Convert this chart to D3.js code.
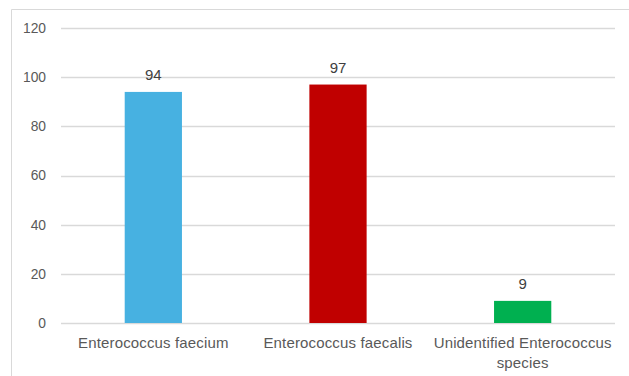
<!DOCTYPE html>
<html>
<head>
<meta charset="utf-8">
<script src="https://cdn.jsdelivr.net/npm/d3@7"></script>
<style>
  html, body { margin: 0; padding: 0; background: #fff; }
  svg { display: block; }
</style>
</head>
<body>
<svg id="chart" width="629" height="376"></svg>
<script>
// Enterococcus isolates by species
const categories = ["Enterococcus faecium", "Enterococcus faecalis", "Unidentified Enterococcus species"];
const counts = [94, 97, 9];
const barColors = ["#47B1E1", "#C00000", "#00B050"];
const yTicks = [0, 20, 40, 60, 80, 100, 120];

const svg = d3.select("#chart");
const W = 629, H = 376;
const margin = { left: 61, right: 14, top: 28, bottom: 53 };
const font = "'Liberation Sans', Arial, sans-serif";
const textColor = "#595959";

// chart frame (top and left edges visible)
svg.append("path")
  .attr("d", `M11.5,${H} V9.5 H${W}`)
  .attr("fill", "none")
  .attr("stroke", "#d9d9d9")
  .attr("stroke-width", 1);

const x = d3.scaleBand()
  .domain(categories)
  .range([margin.left, W - margin.right])
  .paddingInner(0.69)
  .paddingOuter(0.345);

const y = d3.scaleLinear()
  .domain([0, 120])
  .range([H - margin.bottom, margin.top]);

// gridlines
svg.append("g")
  .selectAll("line")
  .data(yTicks)
  .join("line")
  .attr("x1", margin.left)
  .attr("x2", W - margin.right)
  .attr("y1", d => Math.round(y(d)) + 0.5)
  .attr("y2", d => Math.round(y(d)) + 0.5)
  .attr("stroke", "#d9d9d9")
  .attr("stroke-width", 1.3);

// y axis labels
const yAxis = d3.axisLeft(y).tickValues(yTicks).tickSize(0).tickPadding(15);
const gy = svg.append("g")
  .attr("transform", `translate(${margin.left},0)`)
  .call(yAxis);
gy.select(".domain").remove();
gy.selectAll("text")
  .attr("font-family", font)
  .attr("font-size", 13.8)
  .attr("fill", textColor);

// bars
svg.append("g")
  .selectAll("rect")
  .data(categories)
  .join("rect")
  .attr("x", d => x(d))
  .attr("width", x.bandwidth())
  .attr("y", (d, i) => y(counts[i]))
  .attr("height", (d, i) => y(0) - y(counts[i]))
  .attr("fill", (d, i) => barColors[i]);

// value labels
svg.append("g")
  .selectAll("text")
  .data(categories)
  .join("text")
  .attr("x", d => x(d) + x.bandwidth() / 2)
  .attr("y", (d, i) => y(counts[i]) - 11.5)
  .attr("text-anchor", "middle")
  .attr("font-family", font)
  .attr("font-size", 15)
  .attr("fill", "#404040")
  .text((d, i) => counts[i]);

// category labels, wrapped to fit one band step
const bandLabelWidth = x.step();
const gx = svg.append("g");
categories.forEach(cat => {
  const cx = x(cat) + x.bandwidth() / 2;
  const t = gx.append("text")
    .attr("x", cx)
    .attr("y", H - margin.bottom + 25)
    .attr("text-anchor", "middle")
    .attr("font-family", font)
    .attr("font-size", 15)
    .attr("letter-spacing", 0.15)
    .attr("fill", textColor);
  const words = cat.split(" ");
  let line = [];
  let tspan = t.append("tspan").attr("x", cx).attr("dy", 0);
  words.forEach(w => {
    line.push(w);
    tspan.text(line.join(" "));
    if (tspan.node().getComputedTextLength() > bandLabelWidth && line.length > 1) {
      line.pop();
      tspan.text(line.join(" "));
      line = [w];
      tspan = t.append("tspan")
        .attr("x", cx)
        .attr("dy", 20)
        .text(w);
    }
  });
});
</script>
</body>
</html>
